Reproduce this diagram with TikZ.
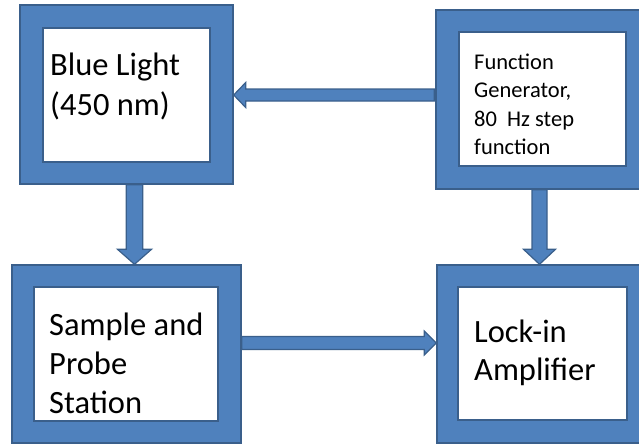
\documentclass[tikz,border=0pt]{standalone}
\usepackage{fontspec}
\setmainfont{Carlito}
\usetikzlibrary{calc}
\definecolor{boxblue}{HTML}{4F81BD}
\definecolor{boxline}{HTML}{3A5F8B}
\tikzset{
  outerbox/.style={draw=boxline, fill=boxblue, line width=1.4pt, rectangle, inner sep=0pt},
  innerbox/.style={draw=boxline, fill=white, line width=1.4pt, rectangle, inner sep=0pt},
  barrow/.style={draw=boxline, fill=boxblue, line width=1.2pt, line join=miter},
  bigtext/.style={font=\fontsize{32.5}{39}\selectfont, align=left, anchor=base west, inner sep=0pt},
  smalltext/.style={font=\fontsize{22.5}{28.5}\selectfont, align=left, anchor=base west, inner sep=0pt}
}
\begin{document}
\begin{tikzpicture}[x=1pt,y=-1pt]
\useasboundingbox (0,0) rectangle (639,444);
\clip (0,0) rectangle (639,444);
% boxes
\node[outerbox, minimum width=213pt, minimum height=179pt] (bl) at (126.5,94.5) {};
\node[innerbox, minimum width=167pt, minimum height=134pt] (blin) at (126.5,95) {};
\node[outerbox, minimum width=213pt, minimum height=179pt] (fg) at (542.5,99.5) {};
\node[innerbox, minimum width=167pt, minimum height=134pt] (fgin) at (542.5,99) {};
\node[outerbox, minimum width=229pt, minimum height=178pt] (sp) at (126.5,354) {};
\node[innerbox, minimum width=184pt, minimum height=134pt] (spin) at (126,354) {};
\node[outerbox, minimum width=212pt, minimum height=178pt] (li) at (543,354) {};
\node[innerbox, minimum width=169pt, minimum height=133pt] (liin) at (542.5,353.5) {};
% texts (anchor is the baseline of the last line)
\node[bigtext, font=\fontsize{32.5}{40}\selectfont] (blt) at (50,115) {Blue Light\\(450 nm)};
\node[smalltext] (fgt) at (474,154.5) {Function\\Generator,\\80~ Hz step\\function};
\node[bigtext] (spt) at (49,413) {Sample and\\Probe\\Station};
\node[bigtext, font=\fontsize{32.5}{38}\selectfont] (lit) at (474,380) {Lock-in\\Amplifier};
% arrows
\coordinate (a1s) at ($(bl.south)+(8,0)$);
\coordinate (a1e) at (a1s |- sp.north);
\draw[barrow] ($(a1s)+(-8.3,0)$) -- ($(a1e)+(-8.3,-15)$) -- ($(a1e)+(-17,-15)$) -- (a1e)
  -- ($(a1e)+(17,-15)$) -- ($(a1e)+(8.3,-15)$) -- ($(a1s)+(8.3,0)$) -- cycle;
\coordinate (a2s) at ($(fg.south)+(-3,0)$);
\coordinate (a2e) at (a2s |- li.north);
\draw[barrow] ($(a2s)+(-7.5,0)$) -- ($(a2e)+(-7.5,-15)$) -- ($(a2e)+(-16,-15)$) -- (a2e)
  -- ($(a2e)+(16,-15)$) -- ($(a2e)+(7.5,-15)$) -- ($(a2s)+(7.5,0)$) -- cycle;
\coordinate (a3s) at ($(sp.east)+(0,-11)$);
\coordinate (a3e) at (a3s -| li.west);
\draw[barrow] ($(a3s)+(0,-6.5)$) -- ($(a3e)+(-12,-6.5)$) -- ($(a3e)+(-12,-12)$) -- (a3e)
  -- ($(a3e)+(-12,12)$) -- ($(a3e)+(-12,6.5)$) -- ($(a3s)+(0,6.5)$) -- cycle;
\coordinate (a4s) at ($(fg.west)+(-1,-4.5)$);
\coordinate (a4e) at (a4s -| bl.east);
\draw[barrow] ($(a4s)+(0,-6)$) -- ($(a4e)+(12,-6)$) -- ($(a4e)+(12,-12.5)$) -- (a4e)
  -- ($(a4e)+(12,12.5)$) -- ($(a4e)+(12,6)$) -- ($(a4s)+(0,6)$) -- cycle;
\end{tikzpicture}
\end{document}
